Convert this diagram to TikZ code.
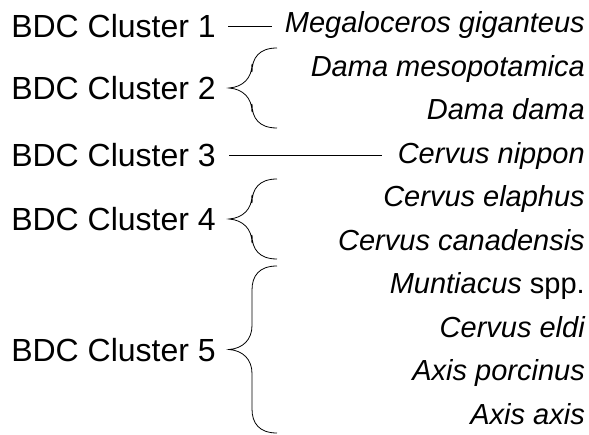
\documentclass[tikz,border=0pt]{standalone}
\usepackage{fontspec}
\setmainfont{Liberation Sans}
\newcommand{\curlybr}[2]{%
  \draw[brline] (277,#1) .. controls (259,#1) and (252,#1+10) .. (252,#1+24)
    -- (252,{(#1+#2)/2-24}) .. controls (252,{(#1+#2)/2-10}) and (243,{(#1+#2)/2-1}) .. (229,{(#1+#2)/2})
    .. controls (243,{(#1+#2)/2+1}) and (252,{(#1+#2)/2+10}) .. (252,{(#1+#2)/2+24})
    -- (252,#2-24) .. controls (252,#2-10) and (259,#2) .. (277,#2);}
\begin{document}
\begin{tikzpicture}[x=1pt,y=-1pt,
  cl/.style={anchor=base east,inner sep=0pt,font=\fontsize{32}{36}\selectfont},
  sp/.style={anchor=base east,inner sep=0pt,font=\fontsize{29}{34}\selectfont\itshape},
  spu/.style={anchor=base east,inner sep=0pt,font=\fontsize{29}{34}\selectfont},
  brline/.style={line width=0.8pt},
  conn/.style={line width=0.8pt}]
\useasboundingbox (0,0) rectangle (589,435);
% left cluster labels
\node[cl] (c1) at (216,38) {BDC Cluster 1};
\node[cl] (c2) at (216,99.5) {BDC Cluster 2};
\node[cl] (c3) at (216,166.5) {BDC Cluster 3};
\node[cl] (c4) at (216,230.5) {BDC Cluster 4};
\node[cl] (c5) at (216,361.5) {BDC Cluster 5};
% species labels
\node[sp] (s1) at (585,33) {Megaloceros giganteus};
\node[sp] (s2) at (585,76.5) {Dama mesopotamica};
\node[sp] (s3) at (585,120) {Dama dama};
\node[sp] (s4) at (585,163.5) {Cervus nippon};
\node[sp] (s5) at (585,207) {Cervus elaphus};
\node[sp] (s6) at (585,250.5) {Cervus canadensis};
\node[spu] (s7) at (585,294) {\textit{Muntiacus} spp.};
\node[sp] (s8) at (585,337.5) {Cervus eldi};
\node[sp] (s9) at (585,381) {Axis porcinus};
\node[sp] (s10) at (585,424.5) {Axis axis};
% connectors
\coordinate (l1a) at ([xshift=12pt]c1.east);
\coordinate (l1b) at (272,0 |- l1a);
\draw[conn] (l1a) -- (l1b);
\coordinate (l3a) at ([xshift=13pt]c3.east);
\coordinate (l3b) at (382,0 |- l3a);
\draw[conn] (l3a) -- (l3b);
% braces
\curlybr{48}{128}
\curlybr{179}{259}
\curlybr{266}{433}
\end{tikzpicture}
\end{document}
